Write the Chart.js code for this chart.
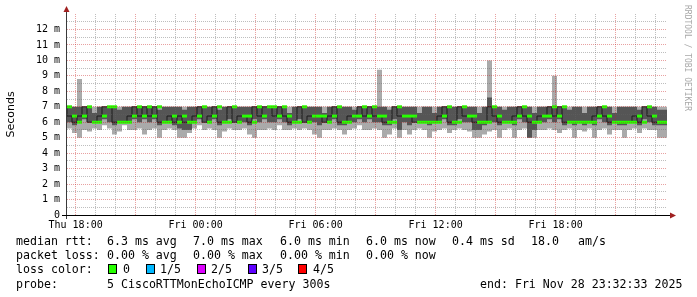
<!DOCTYPE html>
<html><head><meta charset="utf-8">
<script src="https://cdn.jsdelivr.net/npm/chart.js@4/dist/chart.umd.min.js"></script>
<style>
html,body{margin:0;padding:0;background:#fff;}
#wrap{position:relative;width:697px;height:297px;overflow:hidden;background:#fff;}
canvas{position:absolute;left:0;top:0;}
.t{position:absolute;font-family:"DejaVu Sans Mono",monospace;font-size:11.6px;line-height:14px;color:#000;white-space:pre;}
.box{position:absolute;width:7px;height:8px;border:1px solid #000;}
</style></head><body>
<div id="wrap"><canvas id="c" width="697" height="297"></canvas></div>
<script>
// time axis: hours relative to Thu 18:00, one sample every 15 minutes
const startHour = -0.43;
const stepHours = 0.25;
const xTickHours = [0, 6, 12, 18, 24];
const xTickLabels = ['Thu 18:00', 'Fri 00:00', 'Fri 06:00', 'Fri 12:00', 'Fri 18:00'];
const yTickValues = [0,1,2,3,4,5,6,7,8,9,10,11,12];
const yTickLabels = ['0','1 m','2 m','3 m','4 m','5 m','6 m','7 m','8 m','9 m','10 m','11 m','12 m'];

// median rtt (ms)
const medianRtt = [
7,6.4,6,6.4,7,6,6,6.4,7,7,
6,6,6,6.4,7,6.4,7,6.4,7,6,
6,6.4,6,6.4,6,6,6.4,7,6,6.4,
7,6,6,7,6,6.4,6.4,6,7,6.4,
7,7,6.4,7,6.4,6,6,7,6,6.4,
6.4,6.4,6,6.4,7,6,6,6.4,6.4,7,
6.4,7,6.4,6.4,6,6,7,6.4,6.4,6.4,
6,6,6,6,6,6.4,7,6,6,7,
6.4,6.4,6,6,6,7,6.4,6,6,6,
6.4,7,6.4,6,6,6.4,6.4,7,6.4,7,
6,6,6,6,6,6,6.4,7,6.4,6,
6,6,6,6,6.4,6,7,6.4,6,6];
// sorted pings: lowest
const ping1 = [
5.5,5.6,5.3,5.0,5.5,5.4,5.6,5.5,5.8,5.6,
5.2,5.4,5.8,5.5,5.5,5.6,5.2,5.5,5.6,5.0,
5.5,5.6,5.5,5.0,5.0,5.3,5.6,5.8,5.5,5.6,
5.5,5.0,5.4,5.6,5.5,5.5,5.6,5.2,5.0,5.5,
5.5,5.6,5.5,5.8,5.5,5.5,5.6,5.5,5.6,5.5,
5.2,5.0,5.5,5.5,5.6,5.5,5.2,5.5,5.6,5.8,
5.5,5.5,5.6,5.5,5.0,5.2,5.6,5.0,5.5,5.2,
5.5,5.6,5.5,5.0,5.4,5.5,5.6,5.3,5.5,5.6,
5.5,5.4,5.0,5.0,5.2,5.4,5.5,5.0,5.5,5.6,
5.0,5.5,5.6,5.0,5.0,5.5,5.5,5.6,5.5,5.3,
5.5,5.6,5.0,5.5,5.4,5.6,5.0,5.5,5.6,5.2,
5.5,5.5,5.0,5.5,5.6,5.3,5.6,5.5,5.5,5.0];
// second lowest
const ping2 = [
6,6,5.8,6,6.2,6,6,6,6.2,6,
5.8,6,6,6,6.2,6,6.2,6,6.2,5.8,
6,6,5.8,5.6,5.5,5.5,6,6.2,6,6,
6.2,5.8,6,6.2,6,6,6,5.8,6.2,6,
6.2,6,6,6.2,6,5.8,6,6.2,6,6,
6,5.8,6,6,6.2,5.8,5.8,6,6,6.2,
6,6.2,6,6,5.8,5.8,6.2,5.5,6,5.8,
6,6,6,5.8,6,6,6.2,5.8,5.8,6.2,
6,6,5.5,5.5,5.8,6,6,5.8,6,6,
5.8,6.2,6,5.0,5.5,6,6,6.2,6,6.2,
5.8,6,5.8,6,5.8,6,5.8,6.2,6,5.8,
6,5.8,5.8,6,6,5.8,6.2,6,5.8,5.8];
// second highest
const ping4 = [
7,7,7,7,7,7,6.6,7,7,7,
7,6.8,7,7,7,7,7,7,7,6.8,
7,7,7,7,6.8,7,7,7,7,7,
7,6.8,7,7,7,7,7,7,7,7,
7,7,7,7,7,6.6,7,7,7,7,
7,7,6.6,7,7,7,7,7,6.8,7,
7,7,7,7,7,6.8,7,7,7,7,
7,6.6,7,7,6.6,7,7,7,7,7,
7,7,7,6.6,7,7.6,7,7,6.8,7,
7,7,7,7,6.6,7,7,7,7,7,
7,6.8,7,7,6.6,7,7,7,7,7,
6.6,7,7,7,7,6.8,7,7,7,6.8];
// highest
const ping5 = [
7,7,7,8.8,7,7,7,7,7,7,
7,7,7,7,7,7,7,7,7,7,
7,7,7,7,7,7,7,7,7,7,
7,7,7,7,7,7,7,7,7,7,
7,7,7,7,7,7,7,7,7,7,
7,7,7,7,7,7,7,7,7,7,
7,7,7,9.4,7,7,7,7,7,7,
7,7,7,7,7,7,7,7,7,7,
7,7,7,7,7,10,7,7,7,7,
7,7,7,7,7,7,7,7,9,7,
7,7,7,7,7,7,7,7,7,7,
7,7,7,7,7,7,7,7,7,7];

const legendRows = [
  {top:234, items:[[16,'median rtt:'],[107,'6.3 ms avg'],[193,'7.0 ms max'],[280,'6.0 ms min'],[366,'6.0 ms now'],[452,'0.4 ms sd'],[531,'18.0'],[578,'am/s']]},
  {top:248, items:[[16,'packet loss:'],[107,'0.00 % avg'],[193,'0.00 % max'],[280,'0.00 % min'],[366,'0.00 % now']]},
  {top:262, items:[[16,'loss color:']]},
  {top:277, items:[[16,'probe:'],[107,'5 CiscoRTTMonEchoICMP every 300s'],[480,'end: Fri Nov 28 23:32:33 2025']]}
];
const lossColors = ['#26ff00','#00b8ff','#dd00ff','#5e00ff','#ff0000'];
const lossLabels = ['0','1/5','2/5','3/5','4/5'];
const lossBoxX = [108,146,197,248,298];
const lossLabelX = [123,160,211,262,313];

const wrap = document.getElementById('wrap');
function addText(x, top, s){ const d=document.createElement('div'); d.className='t'; d.style.left=x+'px'; d.style.top=top+'px'; d.textContent=s; wrap.appendChild(d); }
legendRows.forEach(r => r.items.forEach(it => addText(it[0], r.top, it[1])));
lossColors.forEach((c,i) => {
  const b=document.createElement('div'); b.className='box'; b.style.left=lossBoxX[i]+'px'; b.style.top='264px'; b.style.background=c; wrap.appendChild(b);
  addText(lossLabelX[i], 262, lossLabels[i]);
});

function stepPts(arr){
  const p = arr.map((v,i)=>({x:startHour+i*stepHours, y:v}));
  p.push({x:startHour+arr.length*stepHours, y:arr[arr.length-1]});
  return p;
}
const midPts = medianRtt.map((v,i)=>({x:startHour+(i+0.5)*stepHours, y:v}));
const clear = 'rgba(0,0,0,0)';
const base = {type:'line', stepped:'after', pointRadius:0, borderWidth:1, borderColor:clear, tension:0};

const decor = {
  id:'decor',
  afterDraw(chart){
    const {ctx, chartArea:a} = chart;
    ctx.save();
    ctx.lineWidth = 1;
    ctx.strokeStyle = '#3a3a3a';
    ctx.beginPath(); ctx.moveTo(a.left-0.5, a.bottom+4); ctx.lineTo(a.left-0.5, 10); ctx.stroke();
    ctx.strokeStyle = '#000';
    ctx.beginPath(); ctx.moveTo(a.left-5, a.bottom+0.5); ctx.lineTo(a.right+3, a.bottom+0.5); ctx.stroke();
    ctx.fillStyle = '#a02020';
    ctx.beginPath(); ctx.moveTo(a.left-0.5, 6); ctx.lineTo(a.left-3.5, 12); ctx.lineTo(a.left+2.5, 12); ctx.closePath(); ctx.fill();
    ctx.beginPath(); ctx.moveTo(a.right+9, a.bottom+0.5); ctx.lineTo(a.right+3, a.bottom-2.5); ctx.lineTo(a.right+3, a.bottom+3.5); ctx.closePath(); ctx.fill();
    ctx.translate(685, 5);
    ctx.rotate(Math.PI/2);
    ctx.font = '8px "DejaVu Sans Mono"';
    ctx.fillStyle = '#a8a8a8';
    ctx.textBaseline = 'alphabetic';
    ctx.fillText('RRDTOOL / TOBI OETIKER', 0, 0);
    ctx.restore();
  }
};

const major = 'rgba(200,30,30,0.42)';
const minor = 'rgba(100,100,100,0.42)';

new Chart(document.getElementById('c'), {
  type:'line',
  data:{datasets:[
    {type:'line', data:midPts, showLine:false, pointStyle:'line', pointRadius:2.5, pointBorderWidth:3, pointBorderColor:'#26ff00', pointBackgroundColor:'#26ff00', pointHoverRadius:0},
    Object.assign({}, base, {data:stepPts(medianRtt), borderColor:'#1c1c1c', borderWidth:1, fill:false}),
    Object.assign({}, base, {data:stepPts(ping2), fill:false}),
    Object.assign({}, base, {data:stepPts(ping4), fill:'-1', backgroundColor:'#555555'}),
    Object.assign({}, base, {data:stepPts(ping1), fill:false}),
    Object.assign({}, base, {data:stepPts(ping5), fill:'-1', backgroundColor:'#aaaaaa'})
  ]},
  options:{
    responsive:false, animation:false, devicePixelRatio:1, events:[],
    layout:{padding:{top:14, right:30, left:0, bottom:0}},
    plugins:{legend:{display:false}, tooltip:{enabled:false}},
    scales:{
      x:{type:'linear', min:startHour, max:startHour+medianRtt.length*stepHours,
        afterFit(s){ s.height = 82; },
        afterBuildTicks(s){ const t=[]; for(let h=0; h<=29; h++) t.push({value:h}); s.ticks=t; },
        grid:{z:1, drawTicks:false, lineWidth:1, color:(c)=> (c.tick && c.tick.value%3===0) ? major : minor},
        border:{display:false, dash:[1,1]},
        ticks:{autoSkip:false, maxRotation:0, padding:4, color:'#000', font:{family:'DejaVu Sans Mono', size:10},
          callback:(v)=>{ const k=xTickHours.indexOf(v); return k>=0 ? xTickLabels[k] : ''; }}
      },
      y:{type:'linear', min:0, max:13,
        afterFit(s){ s.width = 67; },
        afterBuildTicks(s){ const t=[]; for(let v=0; v<=12.5; v+=0.5) t.push({value:v}); s.ticks=t; },
        grid:{z:1, drawTicks:false, lineWidth:1, color:(c)=> (c.tick && Number.isInteger(c.tick.value)) ? major : minor},
        border:{display:false, dash:[1,1]},
        title:{display:true, text:'Seconds', color:'#000', padding:{top:5,bottom:0}, font:{family:'DejaVu Sans', size:11}},
        ticks:{autoSkip:false, padding:7, color:'#000', font:{family:'DejaVu Sans Mono', size:10},
          callback:(v)=>{ const k=yTickValues.indexOf(v); return k>=0 ? yTickLabels[k] : ''; }}
      }
    }
  },
  plugins:[decor]
});
</script>
</body></html>
